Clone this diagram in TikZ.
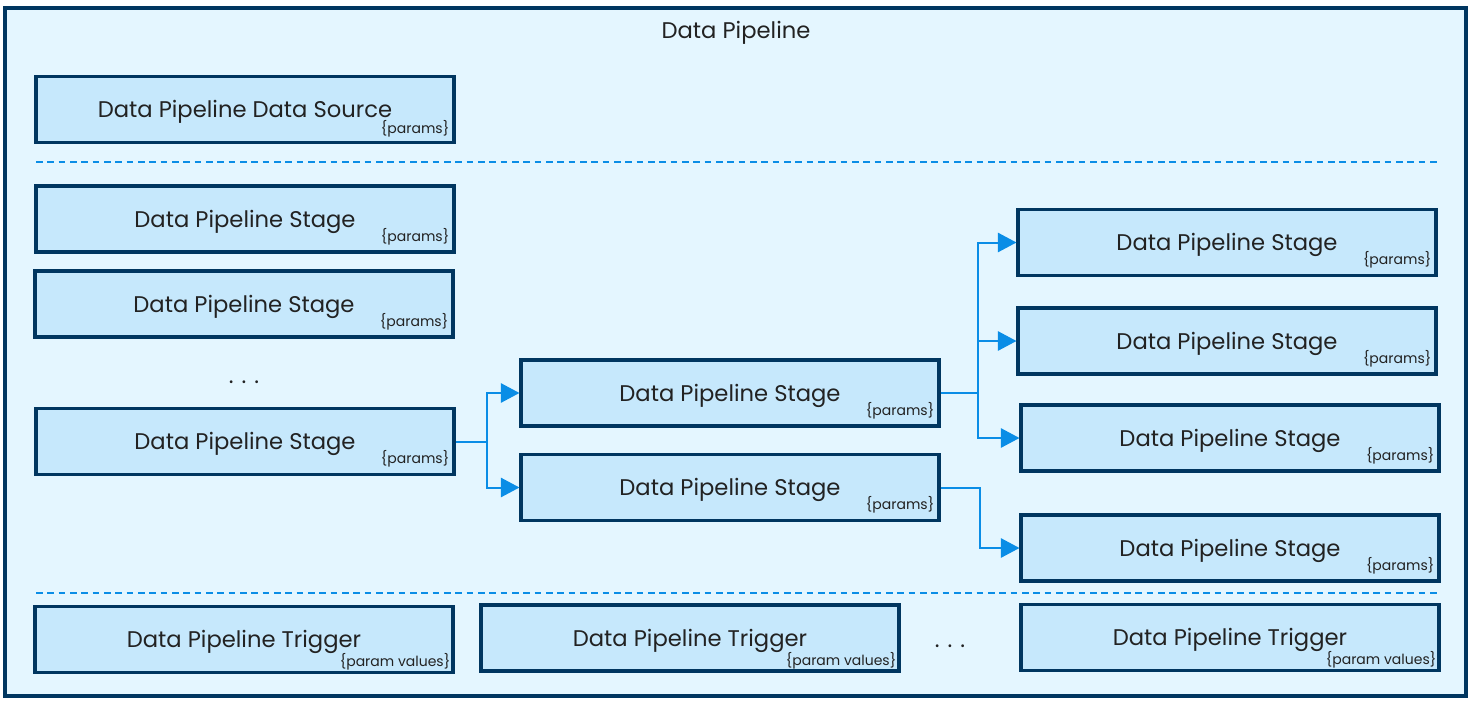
\documentclass[tikz,border=0pt]{standalone}
\usepackage{fontspec}
\setmainfont{Poppins}
\usetikzlibrary{arrows.meta}
\definecolor{navy}{HTML}{003660}
\definecolor{boxfill}{HTML}{C6E8FC}
\definecolor{panelfill}{HTML}{E4F6FF}
\definecolor{flowblue}{HTML}{0A8DE6}
\definecolor{txt}{HTML}{222222}
\tikzset{
  stagebox/.style={draw=navy,fill=boxfill,line width=2.3pt,minimum width=313.5pt,minimum height=49.5pt,
    inner sep=0pt,text height=12pt,text depth=0pt,text=txt,font=\fontsize{17}{20}\selectfont},
  prm/.style={anchor=east,inner sep=0pt,text=txt,font=\fontsize{10.5}{12}\selectfont},
  flow/.style={draw=flowblue,line width=1.5pt,-{Triangle[length=14pt,width=14.5pt]}},
  divider/.style={draw=flowblue,line width=1.4pt,dash pattern=on 5pt off 3.5pt},
  dots/.style={text=txt,font=\fontsize{17}{20}\selectfont}
}
\begin{document}
\begin{tikzpicture}[x=0.75pt,y=-0.75pt]
  \useasboundingbox (0,0) rectangle (1472,704);
  \draw[navy,fill=panelfill,line width=2.3pt] (5,8) rectangle (1466,696);
  \node[text=txt,font=\fontsize{17}{20}\selectfont] (title) at (736,33) {Data Pipeline};

  % data source
  \node[stagebox] (src) at (245,109.5) {Data Pipeline Data Source};
  \node[prm] at ([shift={(-6,-15)}]src.south east) {\{params\}};
  \draw[divider] (36,162) -- (1441,162);

  % stages
  \node[stagebox] (a1) at (245,219) {Data Pipeline Stage};
  \node[stagebox] (a2) at (244,304) {Data Pipeline Stage};
  \node[dots] (adots) at (244,382) {. . .};
  \node[stagebox] (a3) at (245,441.5) {Data Pipeline Stage};
  \node[stagebox] (b1) at (730,393) {Data Pipeline Stage};
  \node[stagebox] (b2) at (730,487.5) {Data Pipeline Stage};
  \node[stagebox] (c1) at (1227,242.5) {Data Pipeline Stage};
  \node[stagebox] (c2) at (1227,341) {Data Pipeline Stage};
  \node[stagebox] (c3) at (1230,438) {Data Pipeline Stage};
  \node[stagebox] (c4) at (1230,548) {Data Pipeline Stage};
  \foreach \n in {a1,a2,a3,b1,b2,c1,c2,c3,c4}
    \node[prm] at ([shift={(-6,-17)}]\n.south east) {\{params\}};

  \coordinate (ja) at (487,441.5);
  \coordinate (jb) at (978,393);
  \coordinate (jc) at (980,487.5);
  \draw[flowblue,line width=1.5pt] (a3.east) -- (ja);
  \draw[flow] (ja) |- (b1.west);
  \draw[flow] (ja) |- (b2.west);
  \draw[flowblue,line width=1.5pt] (b1.east) -- (jb);
  \draw[flow] (jb) |- (c1.west);
  \draw[flow] (jb) |- (c2.west);
  \draw[flow] (jb) |- (c3.west);
  \draw[flow] (b2.east) -| (jc) |- (c4.west);

  % triggers
  \draw[divider] (36,593) -- (1441,593);
  \node[stagebox] (t1) at (244,639.5) {Data Pipeline Trigger};
  \node[stagebox] (t2) at (690,638) {Data Pipeline Trigger};
  \node[dots] (tdots) at (950,646) {. . .};
  \node[stagebox] (t3) at (1230,637.5) {Data Pipeline Trigger};
  \foreach \n in {t1,t2,t3}
    \node[prm] at ([shift={(-4,-12)}]\n.south east) {\{param values\}};
\end{tikzpicture}
\end{document}
